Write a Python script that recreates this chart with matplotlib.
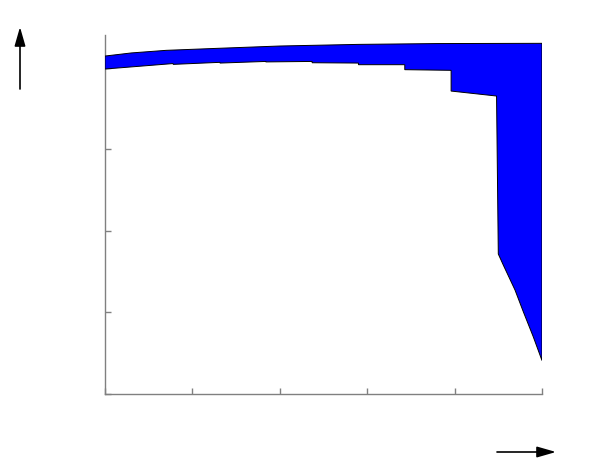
import numpy as np
import matplotlib
matplotlib.use('Agg')
import matplotlib.pyplot as plt

# upper edge of the band
upper_x = [0.0, 0.3, 0.7, 1.3, 2.0, 2.9, 3.8, 5.0]
upper_y = [4.142, 4.180, 4.212, 4.237, 4.265, 4.285, 4.295, 4.298]

# lower edge of the band (steps drawn as repeated x)
lower_x = [0.0, 0.78, 0.78, 1.316, 1.316, 1.84, 1.84, 2.37, 2.37, 2.90, 2.90,
           3.43, 3.43, 3.96, 3.96, 4.48, 4.50, 4.557, 4.691, 4.786, 4.90, 5.0]
lower_y = [3.983, 4.050, 4.040, 4.065, 4.056, 4.076, 4.070, 4.076, 4.060, 4.056, 4.036,
           4.036, 3.975, 3.967, 3.713, 3.652, 1.716, 1.581, 1.275, 1.009, 0.702, 0.410]

fig = plt.figure(figsize=(5.97, 4.74), dpi=100)
ax = fig.add_axes([105/597, 1 - 394/474, 437/597, 359/474])

# closed outline: along the top, back along the bottom
poly_x = list(upper_x) + list(lower_x[::-1])
poly_y = list(upper_y) + list(lower_y[::-1])
ax.fill(poly_x, poly_y, facecolor='#0000ff', edgecolor='black', linewidth=0.7, zorder=3)

ax.set_xlim(0, 5)
ax.set_ylim(0, 4.4)
ax.set_xticks([0, 1, 2, 3, 4, 5])
ax.set_yticks([0, 1, 2, 3, 4])
ax.set_xticklabels([])
ax.set_yticklabels([])
ax.tick_params(direction='in', length=4, width=1, color='#808080')
for s in ['top', 'right']:
    ax.spines[s].set_visible(False)
for s in ['left', 'bottom']:
    ax.spines[s].set_color('#808080')
    ax.spines[s].set_linewidth(1)

# axis direction arrows outside the plot
arrow = dict(arrowstyle='-|>,head_length=11.5,head_width=3.3', mutation_scale=1,
             color='black', lw=1.2, shrinkA=0, shrinkB=0)
ax.annotate('', xy=(20/597, 1 - 27/474), xytext=(20/597, 1 - 89/474),
            xycoords='figure fraction', textcoords='figure fraction', arrowprops=arrow,
            annotation_clip=False)
ax.annotate('', xy=(556/597, 1 - 452/474), xytext=(497/597, 1 - 452/474),
            xycoords='figure fraction', textcoords='figure fraction', arrowprops=arrow,
            annotation_clip=False)

fig.savefig('out.png', dpi=100)
